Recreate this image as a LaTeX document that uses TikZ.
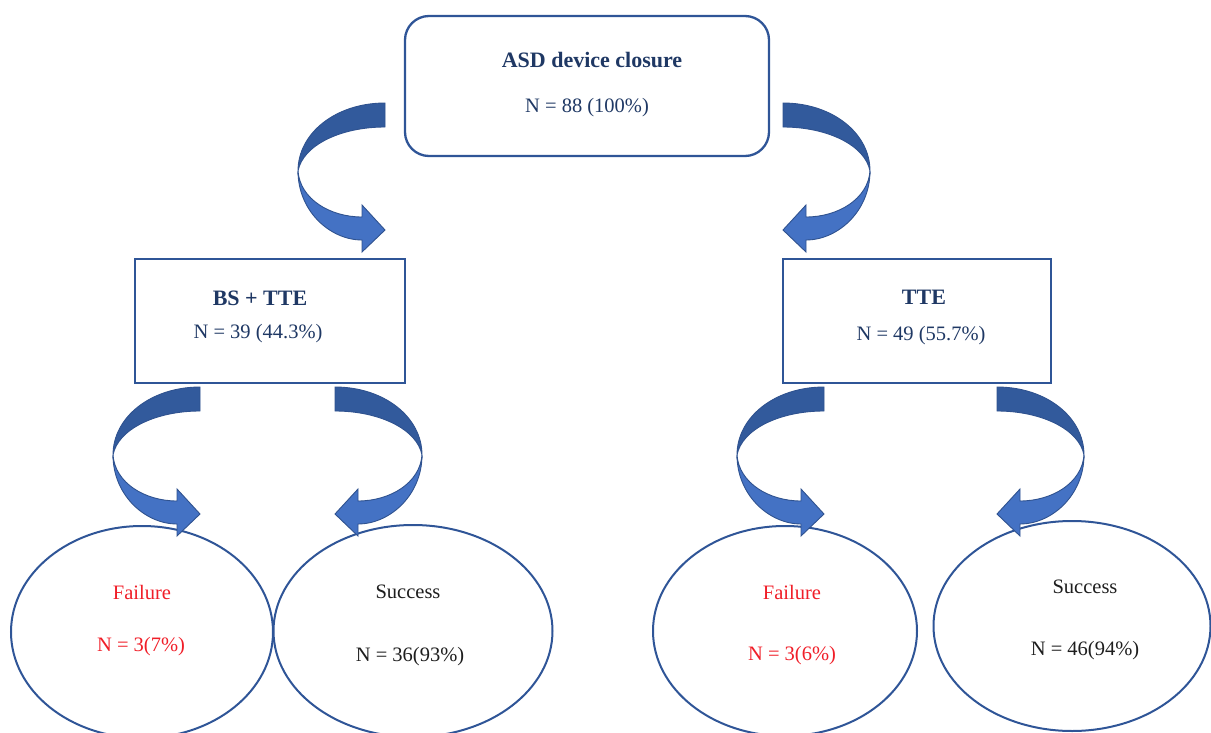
\documentclass[tikz,border=0pt]{standalone}
\usepackage{fontspec}
\setmainfont{Liberation Serif}
\usetikzlibrary{shapes.geometric}
\definecolor{frame}{HTML}{2F5597}
\definecolor{navy}{HTML}{1F3864}
\definecolor{banddark}{HTML}{325A9C}
\definecolor{bandlight}{HTML}{4472C4}
\definecolor{bandedge}{HTML}{2F528F}
\definecolor{fail}{HTML}{F01E28}
\definecolor{ink}{HTML}{1E1E1E}
\tikzset{
  roundbox/.style={draw=frame, line width=2.3pt, rounded corners=24pt},
  plainbox/.style={draw=frame, line width=2.3pt},
  oval/.style={draw=frame, line width=2pt, ellipse},
  label/.style={font=\fontsize{20.5}{24}\selectfont, inner sep=0pt},
  title/.style={label, font=\fontsize{22}{26}\selectfont\bfseries},
  % ribbon arrow that curls out of its tail and comes back pointing at the tail side
  curl/.pic={
    \draw[bandedge, line width=0.9pt, fill=banddark]
      (0,0) .. controls (-49,0) and (-87,30) .. (-87,68)
      .. controls (-82,42) and (-44,24) .. (0,24) -- cycle;
    \draw[bandedge, line width=0.9pt, fill=bandlight]
      (-87,68) .. controls (-87,108) and (-55,137) .. (-23,137)
      -- (-23,149) -- (0,127) -- (-23,102) -- (-23,114)
      .. controls (-55,114) and (-85,96) .. (-87,68) -- cycle;
  }
}
\begin{document}
\begin{tikzpicture}[x=1pt, y=-1pt]
\useasboundingbox (0,0) rectangle (1211,733);
\clip (0,0) rectangle (1211,733);

% top box
\draw[roundbox] (405,16) rectangle (769,156);
\node[title, text=navy] (topT) at (592,60) {ASD device closure};
\node[label, text=navy] (topN) at (587,108) {N = 88 (100\%)};

% second level boxes
\draw[plainbox] (135,259) rectangle (405,383);
\node[title, text=navy] (bsT) at (260,298) {BS + TTE};
\node[label, text=navy] (bsN) at (258,334) {N = 39 (44.3\%)};

\draw[plainbox] (783,259) rectangle (1051,383);
\node[title, text=navy] (tteT) at (924,297) {TTE};
\node[label, text=navy] (tteN) at (921,336) {N = 49 (55.7\%)};

% outcome ellipses
\node[oval, minimum width=262pt, minimum height=212pt] (f1) at (142,632) {};
\node[oval, minimum width=279pt, minimum height=212pt] (s1) at (413,631) {};
\node[oval, minimum width=264pt, minimum height=210pt] (f2) at (785,631) {};
\node[oval, minimum width=277pt, minimum height=210pt] (s2) at (1072,626) {};

\node[label, text=fail] (f1T) at (142,592) {Failure};
\node[label, text=fail] (f1N) at (141,647) {N = 3(7\%)};
\node[label, text=ink] (s1T) at (408,592) {Success};
\node[label, text=ink] (s1N) at (410,657) {N = 36(93\%)};
\node[label, text=fail] (f2T) at (792,592) {Failure};
\node[label, text=fail] (f2N) at (792,656) {N = 3(6\%)};
\node[label, text=ink] (s2T) at (1085,587) {Success};
\node[label, text=ink] (s2N) at (1085,651) {N = 46(94\%)};

% curled arrows
\pic at (385,103) {curl};
\pic[xscale=-1] at (783,103) {curl};
\pic at (200,387) {curl};
\pic[xscale=-1] at (335,387) {curl};
\pic at (824,387) {curl};
\pic[xscale=-1] at (997,387) {curl};
\end{tikzpicture}
\end{document}
